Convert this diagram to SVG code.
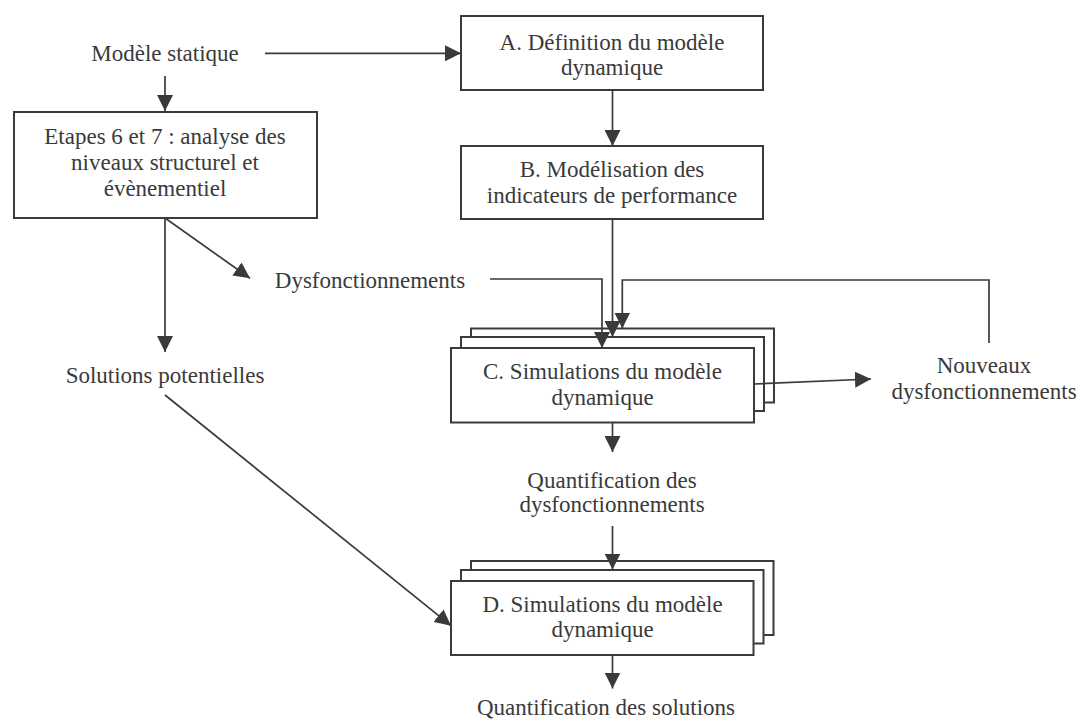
<svg xmlns="http://www.w3.org/2000/svg" width="1083" height="722" viewBox="0 0 1083 722">
<style>
.t{font-family:"Liberation Serif","Times New Roman",serif;font-size:23px;fill:#3a3a3a;text-anchor:middle}
.box{fill:#fff;stroke:#3a3a3a;stroke-width:2}
.ln{fill:none;stroke:#3a3a3a;stroke-width:1.7}
</style>
<defs>
<marker id="ah" viewBox="0 0 16 16" refX="16" refY="8" markerWidth="16" markerHeight="16" markerUnits="userSpaceOnUse" orient="auto">
<path d="M0,0 L16,8 L0,16 z" fill="#3a3a3a"/>
</marker>
</defs>
<rect width="1083" height="722" fill="#fff"/>

<g id="modele-statique"><text class="t" x="165" y="60.5">Modèle statique</text></g>

<g id="etapes">
<rect class="box" x="14" y="112" width="303" height="106"/>
<text class="t" x="165" y="144">Etapes 6 et 7 : analyse des</text>
<text class="t" x="165" y="170">niveaux structurel et</text>
<text class="t" x="165" y="196">évènementiel</text>
</g>

<g id="nodeA">
<rect class="box" x="461" y="16" width="302" height="74"/>
<text class="t" x="612" y="49.5">A. Définition du modèle</text>
<text class="t" x="612" y="75">dynamique</text>
</g>

<g id="nodeB">
<rect class="box" x="461" y="146" width="302" height="73"/>
<text class="t" x="612" y="177">B. Modélisation des</text>
<text class="t" x="612" y="203">indicateurs de performance</text>
</g>

<g id="dysf"><text class="t" x="370" y="288">Dysfonctionnements</text></g>

<g id="solutions"><text class="t" x="165" y="383">Solutions potentielles</text></g>

<g id="nodeC">
<rect class="box" x="471" y="328.5" width="303" height="74"/>
<rect class="box" x="461" y="337" width="303" height="74"/>
<rect class="box" x="451" y="348" width="303" height="74.5"/>
<text class="t" x="602.5" y="379">C. Simulations du modèle</text>
<text class="t" x="602.5" y="405">dynamique</text>
</g>

<g id="nouveaux">
<text class="t" x="984" y="373">Nouveaux</text>
<text class="t" x="984" y="399">dysfonctionnements</text>
</g>

<g id="quant-dysf">
<text class="t" x="612" y="488">Quantification des</text>
<text class="t" x="612" y="512">dysfonctionnements</text>
</g>

<g id="nodeD">
<rect class="box" x="471" y="561" width="302.5" height="74"/>
<rect class="box" x="461" y="570" width="302.5" height="73.5"/>
<rect class="box" x="451" y="581" width="302.5" height="74"/>
<text class="t" x="602.5" y="611.5">D. Simulations du modèle</text>
<text class="t" x="602.5" y="637">dynamique</text>
</g>

<g id="quant-sol"><text class="t" x="606" y="715">Quantification des solutions</text></g>

<g id="connectors">
<path class="ln" d="M265,53.3 H461" marker-end="url(#ah)"/>
<path class="ln" d="M165,76 V111" marker-end="url(#ah)"/>
<path class="ln" d="M612.5,90 V146" marker-end="url(#ah)"/>
<path class="ln" d="M165,218 L250,278.3" marker-end="url(#ah)"/>
<path class="ln" d="M165,218 V352" marker-end="url(#ah)"/>
<path class="ln" d="M490,279 H602 V348" marker-end="url(#ah)"/>
<path class="ln" d="M612.5,219 V337" marker-end="url(#ah)"/>
<path class="ln" d="M989,343 V280 H622.3 V328.5" marker-end="url(#ah)"/>
<path class="ln" d="M754,384 L871,379" marker-end="url(#ah)"/>
<path class="ln" d="M612.5,422.5 V452" marker-end="url(#ah)"/>
<path class="ln" d="M612.5,526 V569.5" marker-end="url(#ah)"/>
<path class="ln" d="M165,395 L451,625.7" marker-end="url(#ah)"/>
<path class="ln" d="M612.5,655 V688.5" marker-end="url(#ah)"/>
</g>
</svg>
